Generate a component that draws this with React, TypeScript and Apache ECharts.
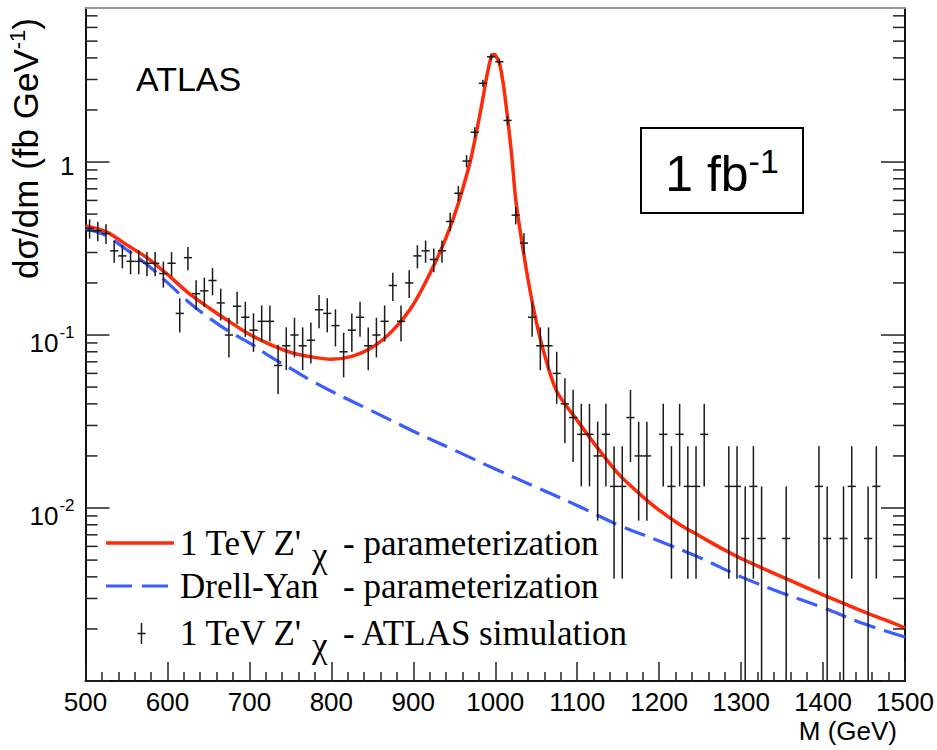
import React, { useEffect, useRef } from 'react';
import * as echarts from 'echarts';

const X_MIN = 500;
const X_MAX = 1500;
const Y_MIN = 0.001;
const Y_MAX = 7.77;
const BIN_WIDTH = 10;
const EVENT_WEIGHT = 1 / 150;

// simulated events per 10 GeV bin (empty bins omitted)
const binCenters = [
  505, 515, 525, 535, 545, 555, 565, 575, 585, 595,
  605, 615, 625, 635, 645, 655, 665, 675, 685, 695,
  705, 715, 725, 735, 745, 755, 765, 775, 785, 795,
  805, 815, 825, 835, 845, 855, 865, 875, 885, 895,
  905, 915, 925, 935, 945, 955, 965, 975, 985, 995,
  1005, 1015, 1025, 1035, 1045, 1055, 1065, 1075, 1085, 1095,
  1105, 1115, 1125, 1135, 1145, 1155, 1165, 1175, 1185, 1205,
  1215, 1225, 1235, 1245, 1255, 1285, 1295, 1305, 1315, 1325,
  1355, 1395, 1405, 1425, 1435, 1455, 1465,
];
const binEvents = [
  62, 60, 58, 46, 43, 40, 40, 39, 39, 34,
  39, 20, 42, 26, 27, 31, 23, 15, 22, 19,
  16, 18, 18, 10, 13, 15, 13, 14, 21, 20,
  17, 12, 16, 19, 13, 15, 18, 29, 18, 30,
  43, 46, 41, 46, 68, 99, 152, 223, 428, 609,
  570, 261, 74, 51, 19, 13, 13, 9, 6, 5,
  4, 4, 3, 4, 2, 2, 5, 3, 3, 4,
  2, 4, 2, 2, 4, 2, 2, 1, 2, 1,
  1, 2, 1, 1, 2, 1, 2,
];

// 1 TeV Z'chi + Drell-Yan parameterization
const zprimeMass = [
  500, 525, 550, 575, 600, 625, 650, 675, 700, 725,
  750, 775, 800, 825, 850, 875, 900, 925, 940, 950,
  960, 970, 980, 985, 990, 995, 998, 1000, 1005, 1010,
  1015, 1020, 1025, 1030, 1040, 1050, 1060, 1075, 1100, 1125,
  1150, 1175, 1200, 1225, 1250, 1275, 1300, 1325, 1350, 1375,
  1400, 1425, 1450, 1475, 1500,
];
const zprimeXsec = [
  0.429, 0.396, 0.333, 0.28, 0.224, 0.176, 0.1443, 0.12, 0.1009, 0.0883,
  0.0794, 0.0748, 0.0724, 0.0753, 0.0849, 0.1064, 0.15, 0.252, 0.366, 0.49,
  0.692, 1.031, 1.754, 2.35, 3.19, 4.05, 4.19, 4.16, 3.74, 2.79,
  1.804, 1.1, 0.606, 0.412, 0.2094, 0.12, 0.0773, 0.0473, 0.0321, 0.0222,
  0.0158, 0.0122, 0.00971, 0.00804, 0.00687, 0.00588, 0.00511, 0.00451, 0.004, 0.00355,
  0.00315, 0.00281, 0.00251, 0.00226, 0.00203,
];

// Drell-Yan parameterization
const dyMass = [
  500, 525, 550, 575, 600, 625, 650, 675, 700, 725,
  750, 775, 800, 850, 900, 950, 1000, 1050, 1100, 1150,
  1200, 1250, 1300, 1350, 1400, 1450, 1500,
];
const dyXsec = [
  0.412, 0.376, 0.312, 0.2556, 0.201, 0.1564, 0.1264, 0.105, 0.0901, 0.0753,
  0.0642, 0.0547, 0.0473, 0.0363, 0.0278, 0.0216, 0.0168, 0.0132, 0.01034, 0.00798,
  0.00645, 0.00515, 0.004, 0.00323, 0.00265, 0.00214, 0.001795,
];

const yLabelExponents = [0, -1, -2];
const yMajorTicks = [0.001, 0.01, 0.1, 1];
const yMinorMultipliers = [2, 3, 4, 5, 6, 7, 8, 9];

const SANS = '"Liberation Sans", Arial, sans-serif';
const SERIF = '"Liberation Serif", "Times New Roman", serif';
const RED = '#ff2a0a';
const BLUE = '#3b5cff';

export default function App() {
  const ref = useRef<HTMLDivElement>(null);

  useEffect(() => {
    if (!ref.current) return;
    const chart = echarts.init(ref.current, undefined, { renderer: 'svg' });

    const points = binCenters.map((m, i) => {
      const n = binEvents[i];
      return [m, n * EVENT_WEIGHT, Math.sqrt(n) * EVENT_WEIGHT];
    });

    const tickData: number[][] = [];
    yMajorTicks.forEach((d) => {
      tickData.push([X_MIN, d, 24]);
      yMinorMultipliers.forEach((k) => {
        const v = d * k;
        if (v < Y_MAX) tickData.push([X_MIN, v, 12]);
      });
    });

    const yFormatter = (v: number) => {
      const lg = Math.log10(v);
      const e = Math.round(lg);
      if (Math.abs(lg - e) > 1e-6) return '';
      if (yLabelExponents.indexOf(e) < 0) return '';
      if (e === 0) return '{one|1}';
      return `{b|10}{s|${e}}`;
    };

    const option: any = {
      animation: false,
      backgroundColor: '#fff',
      grid: { left: 85.5, top: 8, width: 819.5, height: 673, containLabel: false },
      xAxis: [
        {
          type: 'value',
          min: X_MIN,
          max: X_MAX,
          interval: 100,
          position: 'bottom',
          axisLine: { show: true, onZero: false, lineStyle: { color: '#111', width: 2 } },
          axisTick: { show: true, inside: true, length: 19, lineStyle: { color: '#222', width: 1.5 } },
          minorTick: { show: true, splitNumber: 5, length: 9, lineStyle: { color: '#222', width: 1.5 } },
          axisLabel: {
            color: '#000',
            fontSize: 26,
            fontFamily: SANS,
            margin: 8,
            formatter: (v: number) => String(v),
          },
          splitLine: { show: false },
        },
        {
          type: 'value',
          min: X_MIN,
          max: X_MAX,
          position: 'top',
          axisLine: { show: true, onZero: false, lineStyle: { color: '#999', width: 2 } },
          axisTick: { show: false },
          axisLabel: { show: false },
          splitLine: { show: false },
        },
      ],
      yAxis: [
        {
          type: 'log',
          logBase: 10,
          min: Y_MIN,
          max: Y_MAX,
          position: 'left',
          axisLine: { show: true, onZero: false, lineStyle: { color: '#111', width: 2 } },
          axisTick: { show: false },
          splitLine: { show: false },
          axisLabel: {
            margin: 11,
            formatter: yFormatter,
            rich: {
              one: { fontSize: 26, fontFamily: SANS, color: '#000', padding: [8, 0, 0, 0] },
              b: { fontSize: 26, fontFamily: SANS, color: '#000', padding: [15, 0, 0, 0] },
              s: { fontSize: 17, fontFamily: SANS, color: '#000', padding: [0, 0, 5, 1] },
            },
          },
        },
        {
          type: 'log',
          logBase: 10,
          min: Y_MIN,
          max: Y_MAX,
          position: 'right',
          axisLine: { show: true, onZero: false, lineStyle: { color: '#111', width: 2 } },
          axisTick: { show: false },
          axisLabel: { show: false },
          splitLine: { show: false },
        },
      ],
      series: [
        {
          name: 'Drell-Yan - parameterization',
          type: 'line',
          data: dyMass.map((m, i) => [m, dyXsec[i]]),
          showSymbol: false,
          smooth: 0.35,
          lineStyle: { color: BLUE, width: 3.2, type: [22, 9] },
          z: 2,
        },
        {
          name: "1 TeV Z'χ - parameterization",
          type: 'line',
          data: zprimeMass.map((m, i) => [m, zprimeXsec[i]]),
          showSymbol: false,
          smooth: 0.3,
          lineStyle: { color: RED, width: 3.5 },
          z: 3,
        },
        {
          name: "1 TeV Z'χ - ATLAS simulation",
          type: 'custom',
          clip: true,
          data: points,
          z: 4,
          renderItem: (params: any, api: any) => {
            const m = api.value(0);
            const v = api.value(1);
            const e = api.value(2);
            const lo = Math.max(v - e, Y_MIN);
            const hi = v + e;
            const pt = api.coord([m, hi]);
            const pb = api.coord([m, lo]);
            const pl = api.coord([m - BIN_WIDTH / 2, v]);
            const pr = api.coord([m + BIN_WIDTH / 2, v]);
            const st = { stroke: '#1a1a1a', lineWidth: 1.5 };
            return {
              type: 'group',
              children: [
                { type: 'line', shape: { x1: pt[0], y1: pt[1], x2: pb[0], y2: pb[1] }, style: st },
                { type: 'line', shape: { x1: pl[0], y1: pl[1], x2: pr[0], y2: pr[1] }, style: st },
              ],
            };
          },
        },
        {
          type: 'custom',
          silent: true,
          data: tickData,
          z: 5,
          renderItem: (params: any, api: any) => {
            const v = api.value(1);
            const len = api.value(2);
            const pl = api.coord([X_MIN, v]);
            const pr = api.coord([X_MAX, v]);
            const st = { stroke: '#222', lineWidth: 1.5 };
            return {
              type: 'group',
              children: [
                { type: 'line', shape: { x1: pl[0], y1: pl[1], x2: pl[0] + len, y2: pl[1] }, style: st },
                { type: 'line', shape: { x1: pr[0] - len, y1: pr[1], x2: pr[0], y2: pr[1] }, style: st },
              ],
            };
          },
        },
      ],
      graphic: [
        {
          type: 'text',
          x: 136,
          y: 78.5,
          style: { text: 'ATLAS', font: `34px ${SANS}`, fill: '#000', verticalAlign: 'middle' },
        },
        {
          type: 'rect',
          shape: { x: 641, y: 128, width: 162, height: 85 },
          style: { fill: '#fff', stroke: '#000', lineWidth: 2 },
          z: 10,
        },
        {
          type: 'text',
          x: 722,
          y: 170,
          z: 11,
          style: {
            text: '{m|1 fb}{s|-1}',
            align: 'center',
            verticalAlign: 'middle',
            rich: {
              m: { fontSize: 50, fontFamily: SANS, fill: '#000', padding: [8, 0, 0, 0] },
              s: { fontSize: 34, fontFamily: SANS, fill: '#000', padding: [0, 0, 19, 0] },
            },
          },
        },
        {
          type: 'text',
          x: 25,
          y: 18,
          rotation: Math.PI / 2,
          style: {
            text: '{m|dσ/dm (fb GeV}{s|-1}{m|)}',
            align: 'right',
            verticalAlign: 'middle',
            rich: {
              m: { fontSize: 35, fontFamily: SANS, fill: '#000' },
              s: { fontSize: 22, fontFamily: SANS, fill: '#000', padding: [0, 0, 16, 0] },
            },
          },
        },
        {
          type: 'text',
          x: 897,
          y: 731,
          style: { text: 'M (GeV)', font: `26px ${SANS}`, fill: '#000', align: 'right', verticalAlign: 'middle' },
        },
        // legend
        {
          type: 'line',
          shape: { x1: 106, y1: 543, x2: 174, y2: 543 },
          style: { stroke: RED, lineWidth: 3.5 },
        },
        {
          type: 'line',
          shape: { x1: 106, y1: 586, x2: 174, y2: 586 },
          style: { stroke: BLUE, lineWidth: 3.2, lineDash: [26, 10] },
        },
        {
          type: 'line',
          shape: { x1: 141.5, y1: 623, x2: 141.5, y2: 644 },
          style: { stroke: '#1a1a1a', lineWidth: 1.5 },
        },
        {
          type: 'line',
          shape: { x1: 137.5, y1: 633.5, x2: 145.5, y2: 633.5 },
          style: { stroke: '#1a1a1a', lineWidth: 1.5 },
        },
        {
          type: 'text',
          x: 180,
          y: 543,
          style: {
            text: "{a|1 TeV Z'}{c|χ}{t|- parameterization}",
            verticalAlign: 'middle',
            rich: {
              a: { fontSize: 35, fontFamily: SERIF, fill: '#000', width: 132 },
              c: { fontSize: 35, fontFamily: SERIF, fill: '#000', width: 31, padding: [24, 0, 0, 0] },
              t: { fontSize: 35, fontFamily: SERIF, fill: '#000' },
            },
          },
        },
        {
          type: 'text',
          x: 180,
          y: 586,
          style: {
            text: '{d|Drell-Yan}{t|- parameterization}',
            verticalAlign: 'middle',
            rich: {
              d: { fontSize: 35, fontFamily: SERIF, fill: '#000', width: 163 },
              t: { fontSize: 35, fontFamily: SERIF, fill: '#000' },
            },
          },
        },
        {
          type: 'text',
          x: 180,
          y: 633,
          style: {
            text: "{a|1 TeV Z'}{c|χ}{t|- ATLAS simulation}",
            verticalAlign: 'middle',
            rich: {
              a: { fontSize: 35, fontFamily: SERIF, fill: '#000', width: 132 },
              c: { fontSize: 35, fontFamily: SERIF, fill: '#000', width: 31, padding: [24, 0, 0, 0] },
              t: { fontSize: 35, fontFamily: SERIF, fill: '#000' },
            },
          },
        },
      ],
    };

    chart.setOption(option);
    return () => {
      chart.dispose();
    };
  }, []);

  return (
    <div
      ref={ref}
      style={{ position: 'fixed', left: 0, top: 0, width: 937, height: 750, background: '#fff' }}
    />
  );
}
